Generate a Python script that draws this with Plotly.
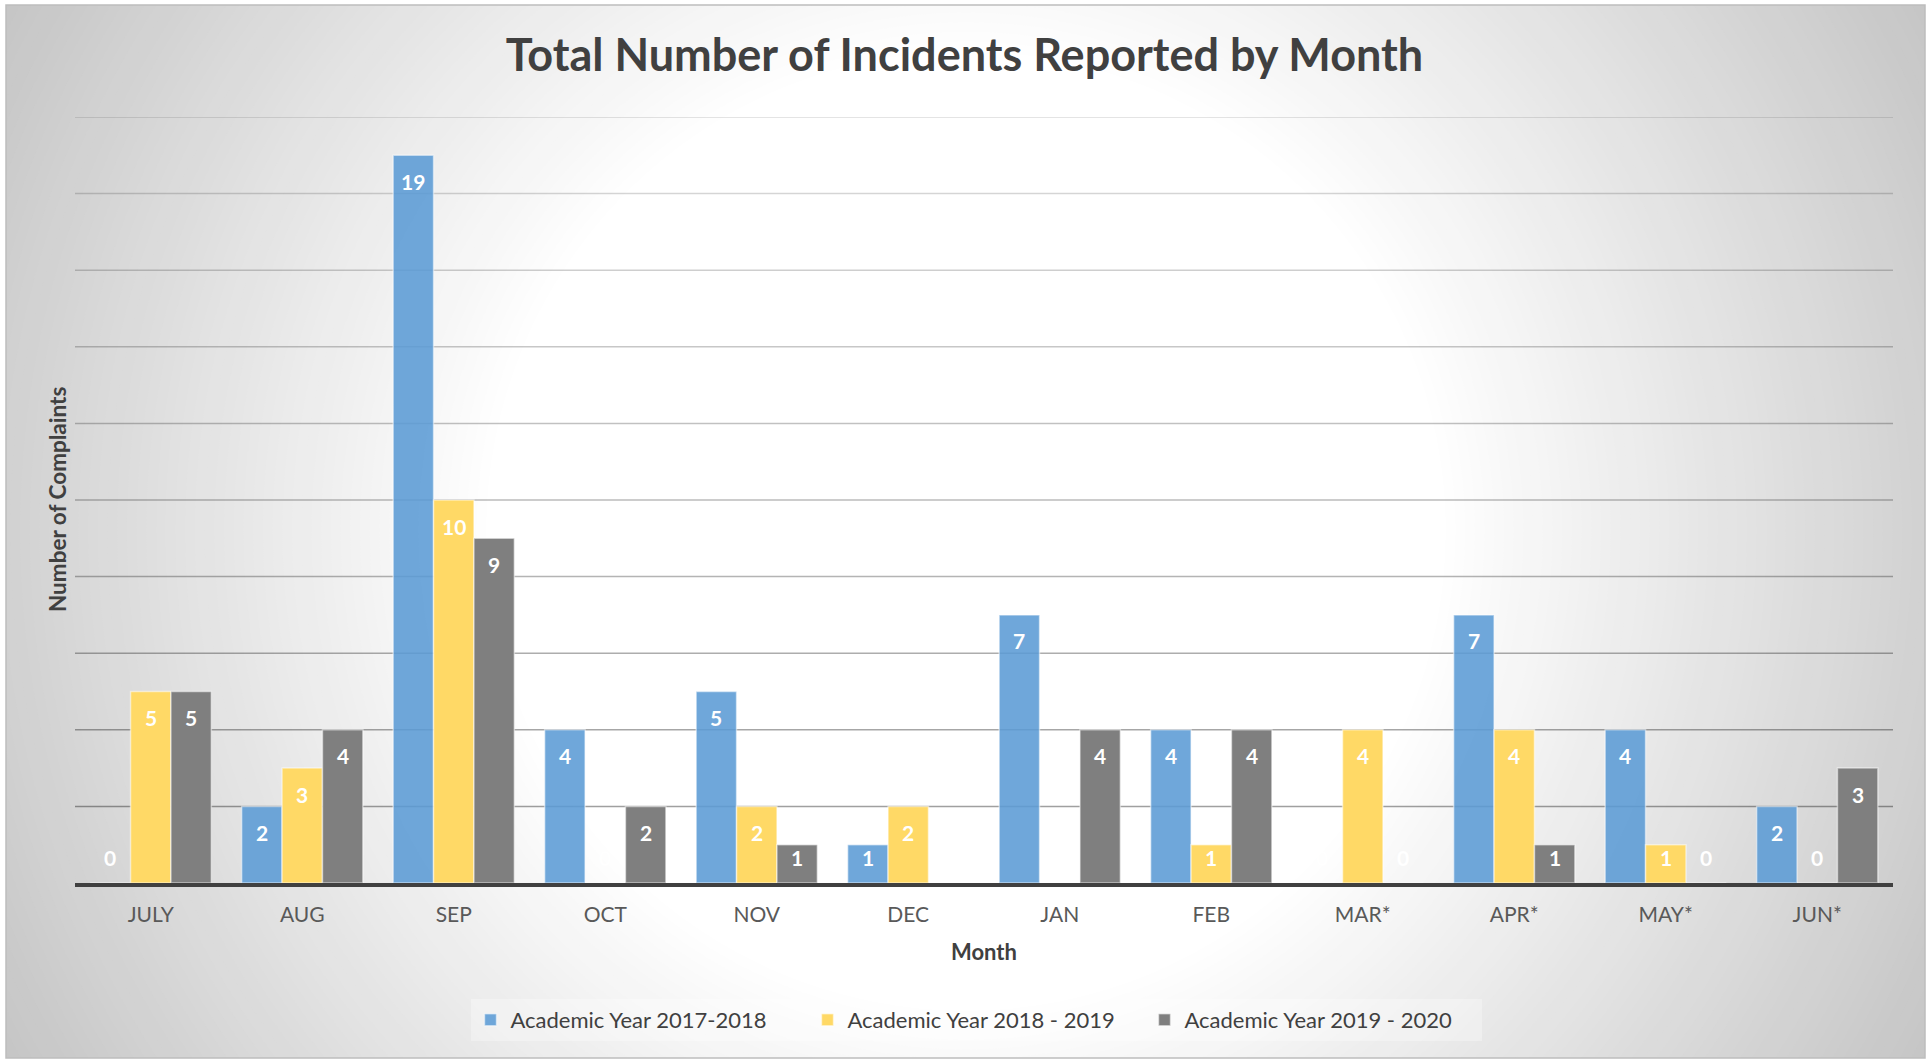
import plotly.graph_objects as go

# ---------------- data ----------------
months = ["JULY", "AUG", "SEP", "OCT", "NOV", "DEC", "JAN", "FEB", "MAR*", "APR*", "MAY*", "JUN*"]
ay_2017_2018 = [0, 2, 19, 4, 5, 1, 7, 4, 0, 7, 4, 2]
ay_2018_2019 = [5, 3, 10, 0, 2, 2, None, 1, 4, 4, 1, 0]
ay_2019_2020 = [5, 4, 9, 2, 1, None, 4, 4, 0, 1, 0, 3]
series_names = ["Academic Year 2017-2018", "Academic Year 2018 - 2019", "Academic Year 2019 - 2020"]
grid_values = [2, 4, 6, 8, 10, 12, 14, 16, 18, 20]
y_max = 20

# ---------------- styling ----------------
W, H = 1929, 1063
PL, PR, PT, PB = 75, 1893, 117, 883          # plot area in pixels
BARGAP = 0.2
colors = ["rgba(91,155,213,0.88)", "#FFD966", "#7F7F7F"]
FONT = "Lato"


def px(x):
    return (x - PL) / (PR - PL)


def py(y):
    return (PB - y) / (PB - PT)


fig = go.Figure()
series = [ay_2017_2018, ay_2018_2019, ay_2019_2020]
for name, vals, col in zip(series_names, series, colors):
    fig.add_trace(go.Bar(
        x=months, y=vals, name=name,
        marker=dict(color=col, line=dict(color="rgba(255,255,255,0.5)", width=1.5)),
        hoverinfo="x+y+name",
    ))

shapes = []
# base of the chart frame (gradient edge colour)
shapes.append(dict(type="rect", xref="paper", yref="paper", layer="below",
                   x0=px(6), x1=px(1925), y0=py(1058), y1=py(5),
                   fillcolor="#c0c0c0", line=dict(width=0)))
# radial gradient from centre
cx, cy = 966, 531
r0, r1 = 470, 1150
N = 70
edge = 192
for k in range(N):
    r = r1 - (r1 - r0) * k / N
    rn = r1 - (r1 - r0) * (k + 1) / N
    f = ((r + rn) / 2 - r0) / (r1 - r0)
    c = int(round(255 - f * (255 - edge)))
    shapes.append(dict(type="circle", xref="paper", yref="paper", layer="below",
                       x0=px(cx - r), x1=px(cx + r), y0=py(cy + r), y1=py(cy - r),
                       fillcolor=f"rgb({c},{c},{c})", line=dict(width=0)))
shapes.append(dict(type="circle", xref="paper", yref="paper", layer="below",
                   x0=px(cx - r0), x1=px(cx + r0), y0=py(cy + r0), y1=py(cy - r0),
                   fillcolor="white", line=dict(width=0)))
# white masks outside the frame
for (a, b, c_, d) in [(-20, 6, -20, H + 20), (1925, W + 20, -20, H + 20),
                      (-20, W + 20, -20, 5), (-20, W + 20, 1058, H + 20)]:
    shapes.append(dict(type="rect", xref="paper", yref="paper", layer="below",
                       x0=px(a), x1=px(b), y0=py(d), y1=py(c_),
                       fillcolor="white", line=dict(width=0)))
# frame border
shapes.append(dict(type="rect", xref="paper", yref="paper", layer="below",
                   x0=px(6), x1=px(1925), y0=py(1058), y1=py(5),
                   fillcolor="rgba(0,0,0,0)", line=dict(color="#bdbdbd", width=1.5)))
# gridlines (darker toward the bottom)
for v in grid_values:
    a = 0.40 - 0.013 * v
    shapes.append(dict(type="line", xref="paper", yref="y", layer="below",
                       x0=0, x1=1, y0=v, y1=v,
                       line=dict(color=f"rgba(0,0,0,{a:.3f})", width=1.5)))

# data labels
annotations = []
unit_px = (PB - PT) / y_max
bar_w = (1 - BARGAP) / len(series)
LAB = 26
for i, vals in enumerate(series):
    off = (i - (len(series) - 1) / 2) * bar_w
    for j, v in enumerate(vals):
        if v is None:
            continue
        if v * unit_px >= 2 * LAB:
            yy, ys = v, -LAB
        else:
            yy, ys = 0, LAB
        annotations.append(dict(x=j + off, y=yy, xref="x", yref="y", yshift=ys,
                                text=f"<b>{v}</b>", showarrow=False,
                                font=dict(family=FONT, size=21, color="white"),
                                xanchor="center", yanchor="middle"))
# axis titles
annotations.append(dict(x=0.5, y=py(951), xref="paper", yref="paper", text="<b>Month</b>",
                        showarrow=False, xanchor="center", yanchor="middle",
                        font=dict(family=FONT, size=22, color="#404040")))
annotations.append(dict(x=px(57), y=0.5, xref="paper", yref="paper",
                        text="<b>Number of Complaints</b>", textangle=-90,
                        showarrow=False, xanchor="center", yanchor="middle",
                        font=dict(family=FONT, size=22.5, color="#404040")))

fig.update_layout(
    width=W, height=H,
    margin=dict(l=PL, r=W - PR, t=PT, b=H - PB, pad=0),
    paper_bgcolor="white",
    plot_bgcolor="rgba(0,0,0,0)",
    barmode="group", bargap=BARGAP, bargroupgap=0,
    title=dict(text="<b>Total Number of Incidents Reported by Month</b>",
               x=0.5, xref="container", xanchor="center",
               y=1 - 55 / H, yref="container", yanchor="middle",
               font=dict(family=FONT, size=45, color="#404040")),
    font=dict(family=FONT, color="#404040"),
    xaxis=dict(showgrid=False, showline=True, linecolor="#404040", linewidth=3.5,
               ticks="", ticklabelstandoff=10,
               tickfont=dict(family=FONT, size=21, color="#595959"),
               fixedrange=True),
    yaxis=dict(range=[0, y_max], showgrid=False, zeroline=False, showticklabels=False,
               showline=False, ticks="", fixedrange=True),
    legend=dict(orientation="h", x=px(976), xanchor="center", y=py(1020), yanchor="middle",
                bgcolor="rgba(255,255,255,0.3)", borderwidth=0,
                entrywidth=292, entrywidthmode="pixels",
                font=dict(family=FONT, size=22, color="#404040"),
                itemclick=False, itemdoubleclick=False),
    shapes=shapes,
    annotations=annotations,
)

fig.write_html("out.html", config={"displayModeBar": False},
               post_script="document.body.style.margin='0';document.body.style.overflow='hidden';")
